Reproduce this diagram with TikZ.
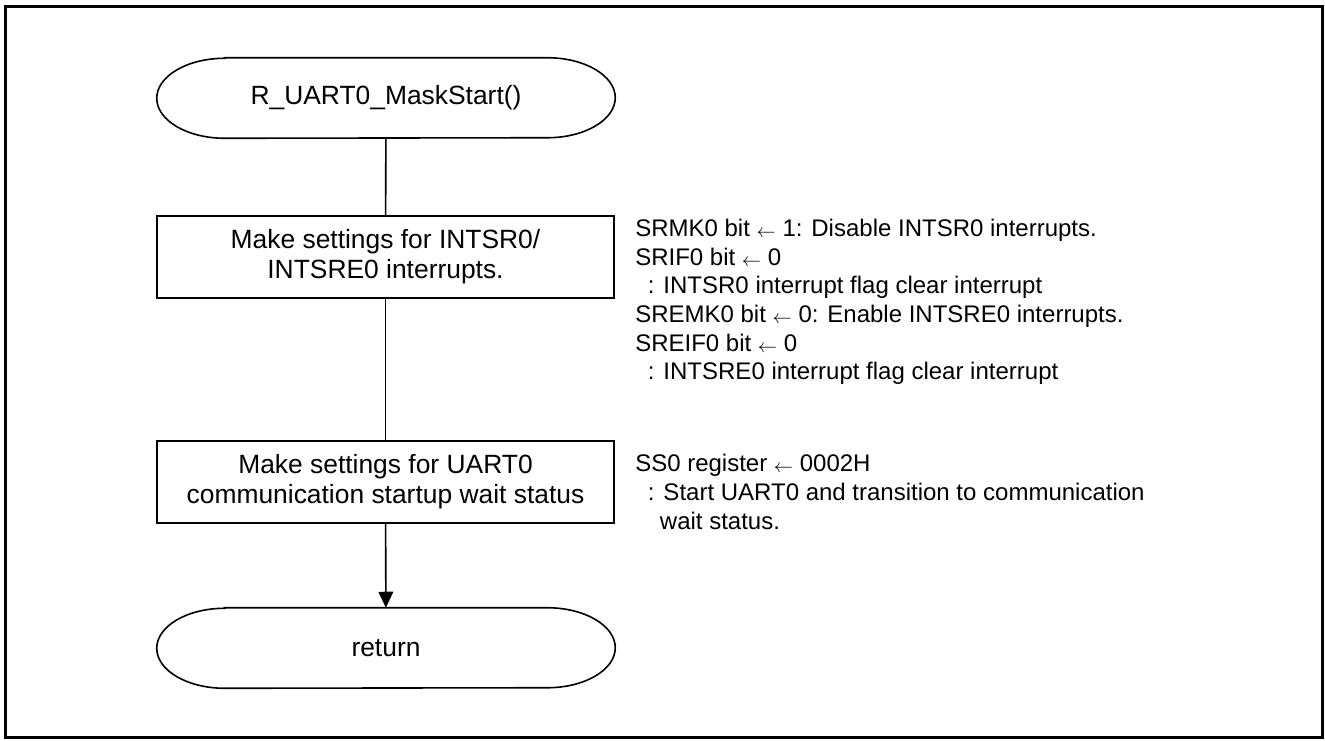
\documentclass[tikz,border=0pt]{standalone}
\usepackage{fontspec}
\setmainfont{Liberation Sans}
\usetikzlibrary{arrows.meta}
\newcommand\drawterm[1]{\draw[termline] ([xshift=51pt]#1.north west) -- ([xshift=-51pt]#1.north east) arc[start angle=90,end angle=-90,x radius=51pt,y radius=30pt] -- ([xshift=51pt]#1.south west) arc[start angle=270,end angle=90,x radius=51pt,y radius=30pt] -- cycle;}
\newcommand\larr{\raisebox{-0.8pt}{\fontsize{15}{15}\selectfont$\leftarrow$}}
\begin{document}
\begin{tikzpicture}[x=0.75pt,y=-0.75pt,
  termline/.style={line width=1.2pt},
  term/.style={minimum width=343.5pt, minimum height=60pt, inner sep=0pt, font=\fontsize{19.8}{22.5}\selectfont},
  proc/.style={draw, line width=1.5pt, minimum width=342.75pt, minimum height=61.5pt, align=center, inner sep=0pt, font=\fontsize{19.8}{22.5}\selectfont},
  note/.style={anchor=north west, align=left, inner sep=0pt, font=\fontsize{18}{21.5}\selectfont},
  conn/.style={line width=1.2pt},
  frame/.style={line width=2.25pt}]
\useasboundingbox (0,0) rectangle (1325,740);
\draw[frame] (5,6) rectangle (1322,737);

\node[term] (start) at (386,98) {R\_UART0\_MaskStart()};
\drawterm{start}
\node[proc] (box1) at (385.5,257) {Make settings for INTSR0/\\INTSRE0 interrupts.};
\node[proc] (box2) at (385.5,482) {Make settings for UART0\\communication startup wait status};
\node[term] (ret) at (386,648) {return};
\drawterm{ret}

\draw[conn] (start) -- (box1);
\draw[conn] (box1) -- (box2);
\draw[conn,-{Triangle[length=12pt,width=11pt]}] (box2) -- (ret);

\node[note] (n1) at (635,219) {SRMK0 bit \larr{} 1: Disable INTSR0 interrupts.\\
SRIF0 bit \larr{} 0\\
\hspace{9.5pt}: INTSR0 interrupt flag clear interrupt\\
SREMK0 bit \larr{} 0: Enable INTSRE0 interrupts.\\
SREIF0 bit \larr{} 0\\
\hspace{9.5pt}: INTSRE0 interrupt flag clear interrupt};
\node[note] (n2) at (635,454) {SS0 register \larr{} 0002H\\
\hspace{9.5pt}: Start UART0 and transition to communication\\
\hspace{18.5pt}wait status.};
\end{tikzpicture}
\end{document}
